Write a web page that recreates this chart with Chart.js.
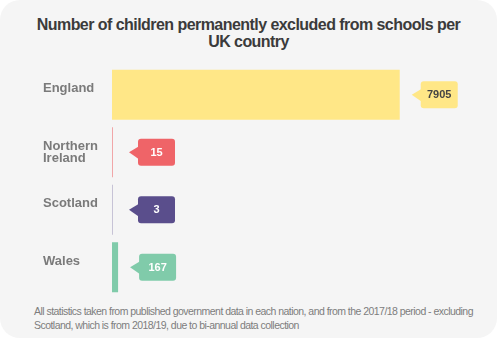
<!DOCTYPE html>
<html>
<head>
<meta charset="utf-8">
<script src="https://cdn.jsdelivr.net/npm/chart.js@4"></script>
<style>
  html, body { margin: 0; padding: 0; background: #fff; }
  .card {
    position: relative;
    width: 497px;
    height: 338px;
    background: #f5f5f5;
    border-radius: 20px;
    font-family: "Liberation Sans", Arial, sans-serif;
  }
  .card h2 {
    position: absolute;
    top: 16px;
    left: 10px;
    right: 10px;
    margin: 0;
    text-align: center;
    font-size: 16px;
    line-height: 17px;
    font-weight: bold;
    letter-spacing: -0.55px;
    color: #3b3b3b;
  }
  .chart-wrap {
    position: absolute;
    top: 60px;
    left: 0;
    width: 497px;
    height: 240px;
  }
  .card p {
    position: absolute;
    top: 305px;
    left: 34px;
    right: 5px;
    margin: 0;
    font-size: 10.5px;
    line-height: 13.5px;
    letter-spacing: -0.54px;
    color: #7d7d7d;
    white-space: nowrap;
  }
</style>
</head>
<body>
<div class="card">
  <h2>Number of children permanently excluded from schools per<br>UK country</h2>
  <div class="chart-wrap"><canvas id="exclusionsChart"></canvas></div>
  <p>All statistics taken from published government data in each nation, and from the 2017/18 period - excluding<br>Scotland, which is from 2018/19, due to bi-annual data collection</p>
</div>

<script>
const countries = ['England', ['Northern', 'Ireland'], 'Scotland', 'Wales'];
const exclusions = [7905, 15, 3, 167];
const barColors = ['#ffe787', '#ef6468', '#5a4e8c', '#80cbaa'];
const labelColors = ['#444444', '#ffffff', '#ffffff', '#ffffff'];

// speech-bubble value labels to the right of each bar
const calloutPlugin = {
  id: 'callouts',
  afterDatasetsDraw(chart) {
    const ctx = chart.ctx;
    const meta = chart.getDatasetMeta(0);
    const left = chart.chartArea.left;
    const w = 37, h = 27, arrow = 9;
    ctx.save();
    meta.data.forEach((bar, i) => {
      const tip = Math.max(bar.x + 12, left + 17);
      const y = bar.y;
      const bx = tip + arrow;
      ctx.fillStyle = barColors[i];
      ctx.beginPath();
      ctx.roundRect(bx, y - h / 2, w, h, 3);
      ctx.fill();
      ctx.beginPath();
      ctx.moveTo(tip, y);
      ctx.lineTo(bx + 1, y - 6);
      ctx.lineTo(bx + 1, y + 7);
      ctx.closePath();
      ctx.fill();
      ctx.fillStyle = labelColors[i];
      ctx.font = 'bold 11px "Liberation Sans", Arial, sans-serif';
      ctx.textAlign = 'center';
      ctx.textBaseline = 'middle';
      ctx.fillText(String(exclusions[i]), bx + w / 2, y + 0.5);
    });
    ctx.restore();
  }
};

new Chart(document.getElementById('exclusionsChart'), {
  type: 'bar',
  data: {
    labels: countries,
    datasets: [{
      data: exclusions,
      backgroundColor: barColors,
      categoryPercentage: 0.87,
      barPercentage: 1,
      minBarLength: 0.3
    }]
  },
  options: {
    indexAxis: 'y',
    responsive: true,
    maintainAspectRatio: false,
    animation: false,
    layout: { padding: { left: 43, right: 21, top: 6, bottom: 4 } },
    plugins: {
      legend: { display: false },
      tooltip: { enabled: false }
    },
    scales: {
      x: {
        display: false,
        min: 0,
        max: 10000
      },
      y: {
        grid: { display: false },
        border: { display: false },
        afterFit(scale) {
          scale.width = 69;
          // labels sit inside the category bands, no extra room needed above/below
          scale.paddingTop = 0;
          scale.paddingBottom = 0;
        },
        ticks: {
          crossAlign: 'far',
          color: '#7a7a7a',
          font: { family: '"Liberation Sans", Arial, sans-serif', size: 13, weight: 'bold', lineHeight: 0.97 },
          // one-line names sit a little above the bar centre, like the first row of a two-line name
          callback(value) {
            const name = this.getLabelForValue(value);
            return Array.isArray(name) ? name : [name, ''];
          }
        }
      }
    }
  },
  plugins: [calloutPlugin]
});
</script>
</body>
</html>
